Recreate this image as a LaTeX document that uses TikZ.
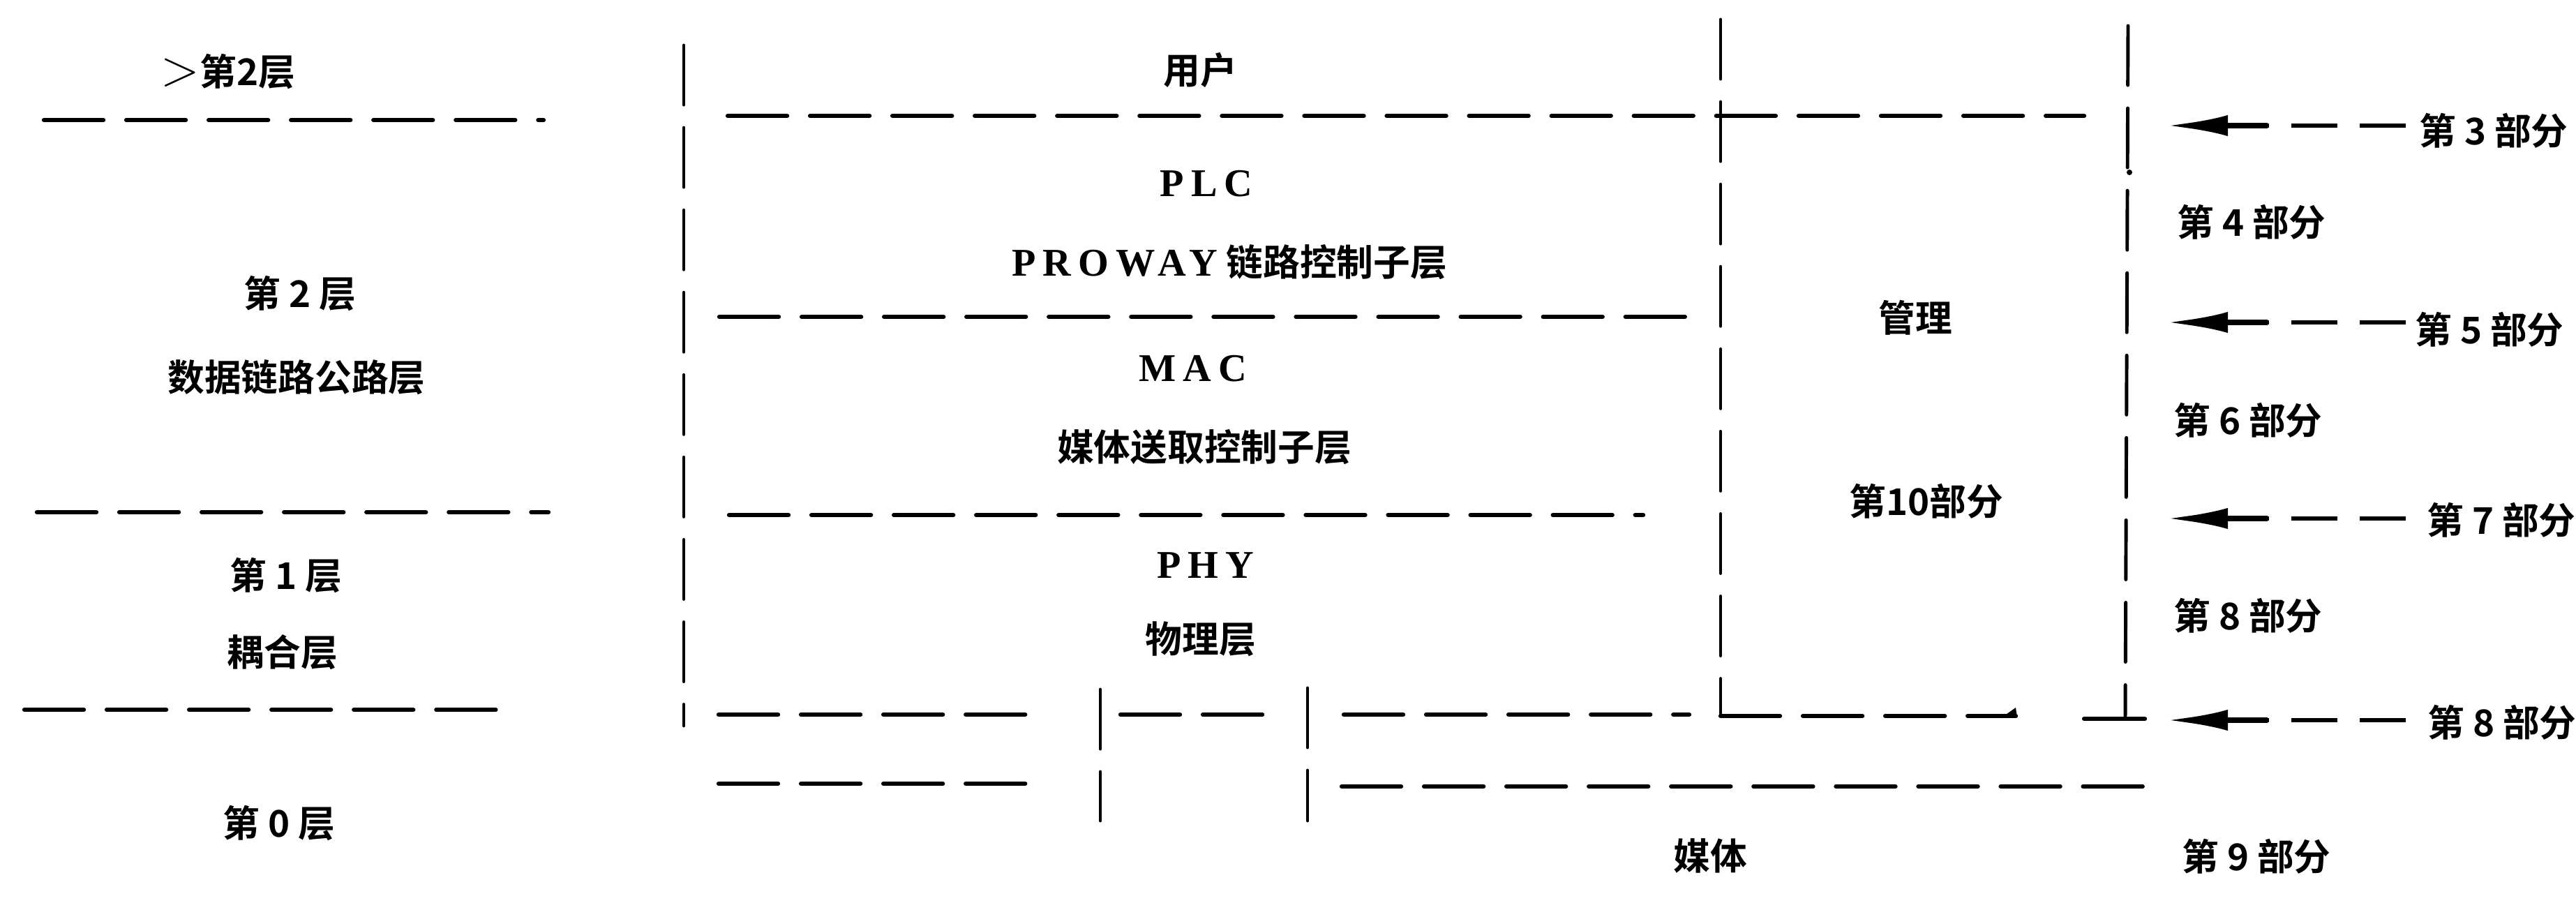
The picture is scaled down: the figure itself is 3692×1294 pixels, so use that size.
\documentclass[tikz,border=0pt]{standalone}
\usepackage{fontspec}
\setmainfont{Liberation Serif}
\newfontfamily\cjk{Noto Sans CJK SC}[BoldFont={Noto Sans CJK SC Bold}]
\newfontfamily\lat{Liberation Serif}[LetterSpace=18]
\usetikzlibrary{arrows.meta}
\tikzset{
  cj/.style={font=\cjk\bfseries\fontsize{15}{18}\selectfont, inner sep=0pt},
  la/.style={font=\lat\bfseries\fontsize{16}{18}\selectfont, inner sep=0pt},
  dl/.style={line width=1.8pt, line cap=round, dash pattern=on 0.85cm off 0.33cm},
  vl/.style={line width=1.4pt, line cap=round, dash pattern=on 0.85cm off 0.33cm},
  sl/.style={line width=1.8pt, line cap=round},
  arrshaft/.style={line width=1.8pt, dash pattern=on 0.66cm off 0.32cm},
  arrhead/.style={line width=2.4pt, -{Latex[length=0.9cm,width=0.3cm]}},
}
\begin{document}
\begin{tikzpicture}[x=0.01cm,y=-0.01cm]
\useasboundingbox (0,0) rectangle (3692,1294);
% left column
\node[cj] (l3) at (327,103) {{\fontsize{22}{22}\selectfont$>$}第2层};
\draw[dl] (63,172) -- (779,172);
\node[cj] (l2a) at (430,421) {第 2 层};
\node[cj] (l2b) at (425,541) {数据链路公路层};
\draw[dl] (53,734) -- (786,734);
\node[cj] (l1a) at (410,825) {第 1 层};
\node[cj] (l1b) at (405,935) {耦合层};
\draw[dl] (35,1017) -- (732,1017);
\node[cj] (l0) at (400,1180) {第 0 层};
% middle
\draw[vl] (980,65) -- (980,1040);
\node[cj] (user) at (1720,101) {用户};
\draw[dl] (1043,166) -- (2987,166);
\node[la] (plc) at (1729,263) {PLC};
\node[cj] (proway) at (1762,376) {{\lat\bfseries\fontsize{16}{18}\selectfont PROWAY} 链路控制子层};
\draw[dl] (1031,454) -- (2431,454);
\node[la] (mac) at (1710,528) {MAC};
\node[cj] (macl) at (1726,641) {媒体送取控制子层};
\draw[dl] (1045,738) -- (2355,738);
\node[la] (phy) at (1728,810) {PHY};
\node[cj] (phyl) at (1721,916) {物理层};
% bottom lines
\draw[dl] (1030,1024) -- (1486,1024);
\draw[vl] (1577,988) -- (1577,1176);
\draw[dl] (1606,1024) -- (1814,1024);
\draw[vl] (1874,986) -- (1874,1176);
\draw[dl] (1926,1024) -- (2421,1024);
\draw[dl] (2466,1026) -- (2889,1026);
\fill (2872,1026) -- (2889,1014) -- (2891,1028) -- cycle;
\draw[sl] (2987,1030) -- (3074,1030);
\draw[dl] (1030,1123) -- (1482,1123);
\draw[dl] (1923,1127) -- (3085,1127);
\node[cj] (medium) at (2451,1226) {媒体};
% management column
\draw[vl] (2466,28) -- (2466,1024);
\node[cj] (mgmt) at (2745,455) {管理};
\node[cj] (p10) at (2761,718) {第10部分};
\draw[vl] (3050,37) -- (3046,1028);
\fill (3052,247) circle (4);
% right column
\node[cj] (p3) at (3574,187) {第 3 部分};
\node[cj] (p4) at (3227,318) {第 4 部分};
\node[cj] (p5) at (3568,472) {第 5 部分};
\node[cj] (p6) at (3222,602) {第 6 部分};
\node[cj] (p7) at (3585,745) {第 7 部分};
\node[cj] (p8a) at (3222,882) {第 8 部分};
\node[cj] (p8b) at (3586,1035) {第 8 部分};
\node[cj] (p9) at (3234,1227) {第 9 部分};
\foreach \n/\y in {p3/180,p5/462,p7/743,p8b/1032}{
  \coordinate (\n e) at (3448,\y);
  \coordinate (\n s) at (3250,\y);
  \coordinate (\n t) at (3103,\y);
  \draw[arrshaft] (\n e) -- (\n s);
  \draw[arrhead] (\n s) -- (\n t);
}
\end{tikzpicture}
\end{document}
